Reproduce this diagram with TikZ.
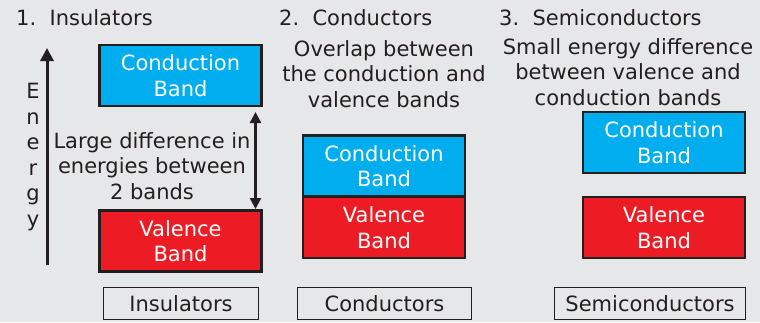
\documentclass[tikz,border=0pt]{standalone}
\usepackage{fontspec}
\setmainfont{DejaVu Sans}
\usetikzlibrary{arrows.meta}
\definecolor{bg}{HTML}{E6E7E8}
\definecolor{ink}{HTML}{231F20}
\definecolor{cb}{HTML}{00AEEF}
\definecolor{vb}{HTML}{ED1C24}
\begin{document}
\begin{tikzpicture}[x=1pt,y=-1pt,
  every node/.style={font=\fontsize{21}{25.5}\selectfont, text=ink, inner sep=0pt, align=center},
  band/.style={draw=ink, line width=2.2pt, minimum width=162pt, minimum height=61pt, text=white},
  cband/.style={band, fill=cb},
  vband/.style={band, fill=vb},
  tag/.style={draw=ink, line width=1.8pt, fill=bg, minimum height=32pt},
  title/.style={anchor=base west},
  arr/.style={draw=ink, line width=3pt, -{Triangle[length=13pt,width=13pt]}},
  darr/.style={draw=ink, line width=2.4pt, {Triangle[length=11pt,width=11pt]}-{Triangle[length=11pt,width=11pt]}}]
\path[fill=bg] (0,0) rectangle (760,322);
\useasboundingbox (0,0) rectangle (760,322);
% titles
\node[title] (t1) at (16,25.5) {1.\ \ Insulators};
\node[title] (t2) at (279,25.5) {2.\ \ Conductors};
\node[title] (t3) at (499,25.5) {3.\ \ Semiconductors};
% insulators
\node[cband] (ic) at (180.5,75.5) {Conduction\\Band};
\node[vband] (iv) at (180.5,241) {Valence\\Band};
\node[tag, minimum width=155pt] (it) at (181,303.5) {Insulators};
\coordinate (ea) at (47,265);
\coordinate (eb) at (47,48);
\draw[arr] (ea) -- (eb);
\node (en) at (33,157) {E\\n\\e\\r\\g\\y};
\coordinate (da) at (255.5,112);
\coordinate (db) at (255.5,209);
\draw[darr] (da) -- (db);
\node (it2) at (152,166) {Large difference in\\energies between\\2 bands};
% conductors
\node (ct2) at (384,74) {Overlap between\\the conduction and\\valence bands};
\node[cband] (cc) at (384,166) {Conduction\\Band};
\node[vband] (cv) at (384,227.5) {Valence\\Band};
\node[tag, minimum width=174pt] (ct) at (384.5,303.5) {Conductors};
% semiconductors
\node (st2) at (628,72) {Small energy difference\\between valence and\\conduction bands};
\node[cband] (sc) at (664,142.5) {Conduction\\Band};
\node[vband] (sv) at (664,227.5) {Valence\\Band};
\node[tag, minimum width=191pt] (stt) at (650,303.5) {Semiconductors};
\end{tikzpicture}
\end{document}
